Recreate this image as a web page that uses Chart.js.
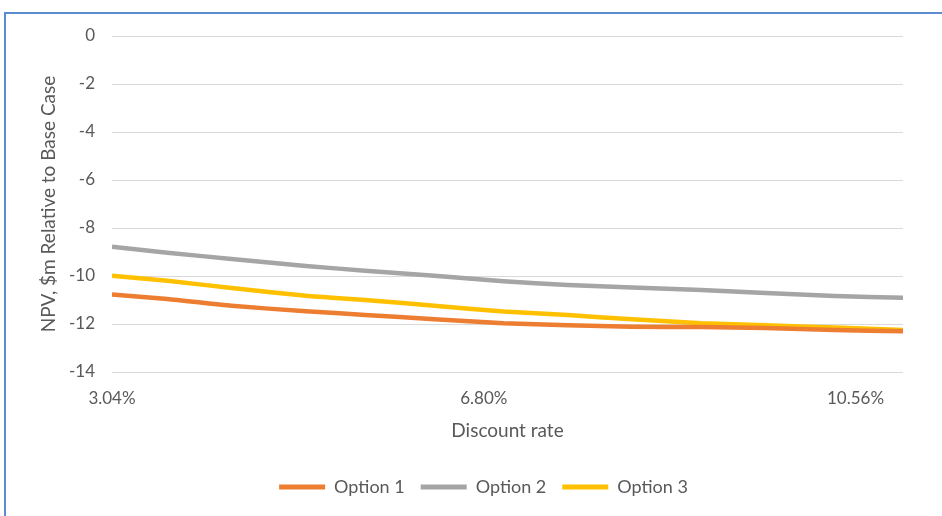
<!DOCTYPE html>
<html lang="en">
<head>
    <meta charset="UTF-8">
    <title>NPV vs Discount rate</title>
    <script src="https://cdn.jsdelivr.net/npm/chart.js"></script>
    <style>
        body {
            margin: 0;
            background-color: #ffffff;
        }
        .frame {
            position: absolute;
            left: 4px;
            top: 12px;
            width: 950px;
            height: 520px;
            border-top: 2px solid #5b8bd0;
            border-left: 2px solid #5b8bd0;
        }
        .wrap {
            position: absolute;
            left: 0;
            top: 0;
            width: 942px;
            height: 516px;
        }
    </style>
</head>
<body>
    <div class="frame"></div>
    <div class="wrap"><canvas id="npvChart" width="942" height="516"></canvas></div>

    <script>
        // discount rate (%) where values were read
        const rates = [3.04, 3.6, 4.25, 5.0, 5.6, 6.3, 7.0, 7.65, 8.3, 9.0, 9.65, 10.35, 11.04];
        const tickRates = [3.04, 6.80, 10.56];

        const option1 = [-10.77, -10.96, -11.24, -11.47, -11.62, -11.80, -11.97, -12.05, -12.11, -12.13, -12.17, -12.25, -12.30];
        const option2 = [-8.78, -9.03, -9.29, -9.58, -9.78, -9.99, -10.22, -10.37, -10.48, -10.58, -10.71, -10.83, -10.91];
        const option3 = [-9.99, -10.20, -10.50, -10.82, -11.00, -11.24, -11.48, -11.63, -11.80, -11.97, -12.05, -12.15, -12.25];

        const textColor = '#595959';
        const fontName = 'Lato';

        function series(label, values, color) {
            return {
                label: label,
                data: values.map((v, i) => ({x: rates[i], y: v})),
                borderColor: color,
                backgroundColor: color,
                borderWidth: 4.5,
                pointRadius: 0,
                tension: 0.2,
                fill: false
            };
        }

        // legend sits a bit right of the canvas centre in the original
        const legendShift = {
            id: 'legendShift',
            afterLayout(chart) {
                chart.legend.left += 32;
                chart.legend.right += 32;
            }
        };

        new Chart(document.getElementById('npvChart'), {
            type: 'line',
            data: {
                datasets: [
                    series('Option 1', option1, '#ed7d31'),
                    series('Option 2', option2, '#a5a5a5'),
                    series('Option 3', option3, '#ffc000')
                ]
            },
            options: {
                responsive: false,
                animation: false,
                layout: {padding: {left: 0, right: 39, top: 36, bottom: 10}},
                plugins: {
                    tooltip: {enabled: false},
                    legend: {
                        position: 'bottom',
                        labels: {
                            color: textColor,
                            font: {family: fontName, size: 18},
                            boxWidth: 46,
                            boxHeight: 5,
                            padding: 16,
                            generateLabels: function (chart) {
                                const items = Chart.defaults.plugins.legend.labels.generateLabels(chart);
                                items.forEach(it => { it.lineWidth = 0; it.fillStyle = it.strokeStyle; });
                                return items;
                            }
                        }
                    }
                },
                scales: {
                    x: {
                        type: 'linear',
                        min: rates[0],
                        max: rates[rates.length - 1],
                        afterBuildTicks: function (scale) {
                            scale.ticks = tickRates.map(v => ({value: v}));
                        },
                        afterFit: function (scale) { scale.height = 90; },
                        grid: {display: false},
                        border: {display: false},
                        ticks: {
                            color: textColor,
                            font: {family: fontName, size: 17},
                            padding: 8,
                            maxRotation: 0,
                            callback: v => v.toFixed(2) + '%'
                        },
                        title: {
                            display: true,
                            text: 'Discount rate',
                            color: textColor,
                            font: {family: fontName, size: 19},
                            padding: {top: 0, bottom: 20}
                        }
                    },
                    y: {
                        min: -14,
                        max: 0,
                        afterFit: function (scale) { scale.width = 112; },
                        grid: {color: '#d9d9d9', drawTicks: false},
                        border: {display: false},
                        ticks: {
                            stepSize: 2,
                            color: textColor,
                            font: {family: fontName, size: 17},
                            padding: 17
                        },
                        title: {
                            display: true,
                            text: 'NPV, $m Relative to Base Case',
                            color: textColor,
                            font: {family: fontName, size: 19},
                            padding: {top: 37, bottom: 0}
                        }
                    }
                }
            },
            plugins: [legendShift]
        });
    </script>
</body>
</html>
